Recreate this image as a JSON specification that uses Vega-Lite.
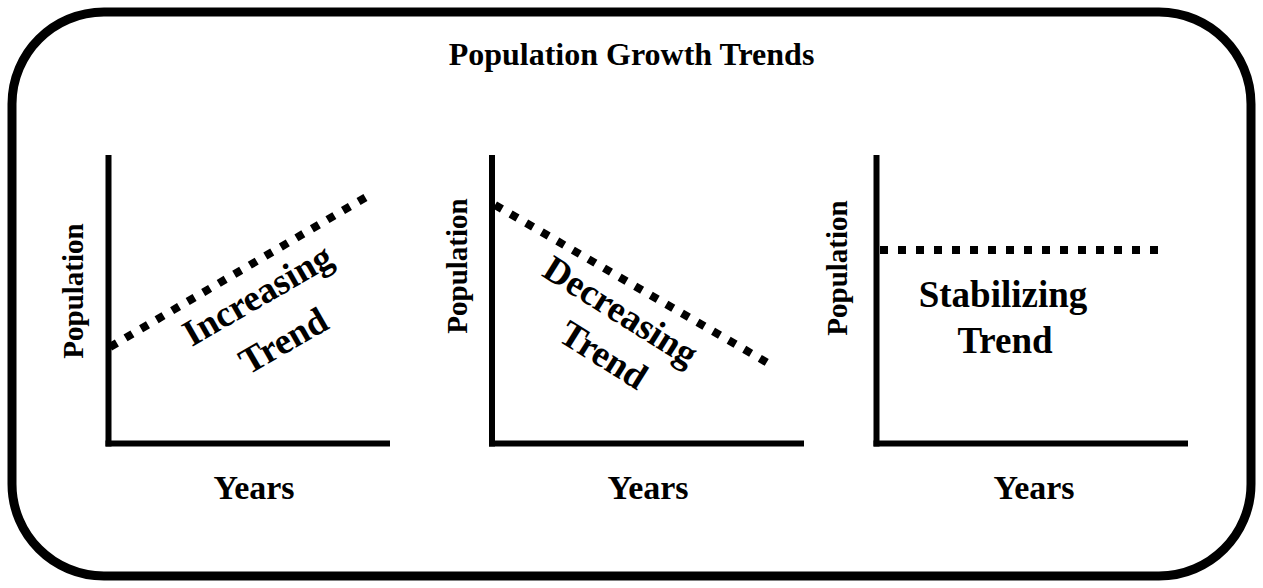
{
  "$schema": "https://vega.github.io/schema/vega-lite/v6.json",
  "width": 1263,
  "height": 588,
  "autosize": {"type": "fit", "contains": "padding"},
  "padding": 12,
  "background": "white",
  "config": {
    "view": {"stroke": "black", "strokeWidth": 9, "cornerRadius": 92, "fill": "white"}
  },
  "title": {
    "text": "Population Growth Trends",
    "font": "Liberation Serif",
    "fontSize": 32,
    "fontWeight": "bold",
    "color": "black",
    "anchor": "middle",
    "frame": "group",
    "offset": -60
  },
  "datasets": {
    "axes": [
      {"panel": "Increasing", "x": 108.5, "y": 155, "x2": 108.5, "y2": 446.5},
      {"panel": "Increasing", "x": 105.5, "y": 443.5, "x2": 390, "y2": 443.5},
      {"panel": "Decreasing", "x": 492, "y": 155, "x2": 492, "y2": 446.5},
      {"panel": "Decreasing", "x": 489, "y": 443.5, "x2": 804, "y2": 443.5},
      {"panel": "Stabilizing", "x": 876.5, "y": 155, "x2": 876.5, "y2": 446.5},
      {"panel": "Stabilizing", "x": 873.5, "y": 443.5, "x2": 1188, "y2": 443.5}
    ],
    "trends": [
      {"panel": "Increasing", "x": 110, "y": 347},
      {"panel": "Increasing", "x": 373, "y": 193},
      {"panel": "Decreasing", "x": 495, "y": 205},
      {"panel": "Decreasing", "x": 773, "y": 366},
      {"panel": "Stabilizing", "x": 880, "y": 250},
      {"panel": "Stabilizing", "x": 1165, "y": 250}
    ],
    "notes": [
      {"label": "Increasing", "x": 258, "y": 296, "angle": -30},
      {"label": "Trend", "x": 284, "y": 342, "angle": -30},
      {"label": "Decreasing", "x": 620, "y": 312, "angle": 32},
      {"label": "Trend", "x": 603, "y": 356, "angle": 32},
      {"label": "Stabilizing", "x": 1003, "y": 296, "angle": 0},
      {"label": "Trend", "x": 1005, "y": 342, "angle": 0}
    ],
    "ytitles": [
      {"label": "Population", "x": 74, "y": 291},
      {"label": "Population", "x": 458, "y": 266},
      {"label": "Population", "x": 838, "y": 268}
    ],
    "xtitles": [
      {"label": "Years", "x": 254, "y": 489},
      {"label": "Years", "x": 648, "y": 489},
      {"label": "Years", "x": 1034, "y": 489}
    ]
  },
  "layer": [
    {
      "data": {"name": "axes"},
      "mark": {"type": "rule", "color": "black", "strokeWidth": 6, "strokeCap": "butt"},
      "encoding": {
        "x": {"field": "x", "type": "quantitative", "axis": null, "scale": {"domain": [12, 1251], "nice": false, "zero": false}},
        "y": {"field": "y", "type": "quantitative", "axis": null, "scale": {"domain": [12, 576], "reverse": true, "nice": false, "zero": false}},
        "x2": {"field": "x2"},
        "y2": {"field": "y2"}
      }
    },
    {
      "data": {"name": "trends"},
      "mark": {"type": "line", "color": "black", "strokeWidth": 8, "strokeDash": [8, 10], "strokeCap": "butt"},
      "encoding": {
        "x": {"field": "x", "type": "quantitative"},
        "y": {"field": "y", "type": "quantitative"},
        "detail": {"field": "panel"}
      }
    },
    {
      "data": {"name": "notes"},
      "mark": {"type": "text", "font": "Liberation Serif", "fontSize": 37, "fontWeight": "bold", "color": "black", "align": "center", "baseline": "middle"},
      "encoding": {
        "x": {"field": "x", "type": "quantitative"},
        "y": {"field": "y", "type": "quantitative"},
        "text": {"field": "label"},
        "angle": {"field": "angle", "type": "quantitative", "scale": null}
      }
    },
    {
      "data": {"name": "ytitles"},
      "mark": {"type": "text", "font": "Liberation Serif", "fontSize": 29, "fontWeight": "bold", "color": "black", "align": "center", "baseline": "middle", "angle": 270},
      "encoding": {
        "x": {"field": "x", "type": "quantitative"},
        "y": {"field": "y", "type": "quantitative"},
        "text": {"field": "label"}
      }
    },
    {
      "data": {"name": "xtitles"},
      "mark": {"type": "text", "font": "Liberation Serif", "fontSize": 34, "fontWeight": "bold", "color": "black", "align": "center", "baseline": "middle"},
      "encoding": {
        "x": {"field": "x", "type": "quantitative"},
        "y": {"field": "y", "type": "quantitative"},
        "text": {"field": "label"}
      }
    }
  ]
}
